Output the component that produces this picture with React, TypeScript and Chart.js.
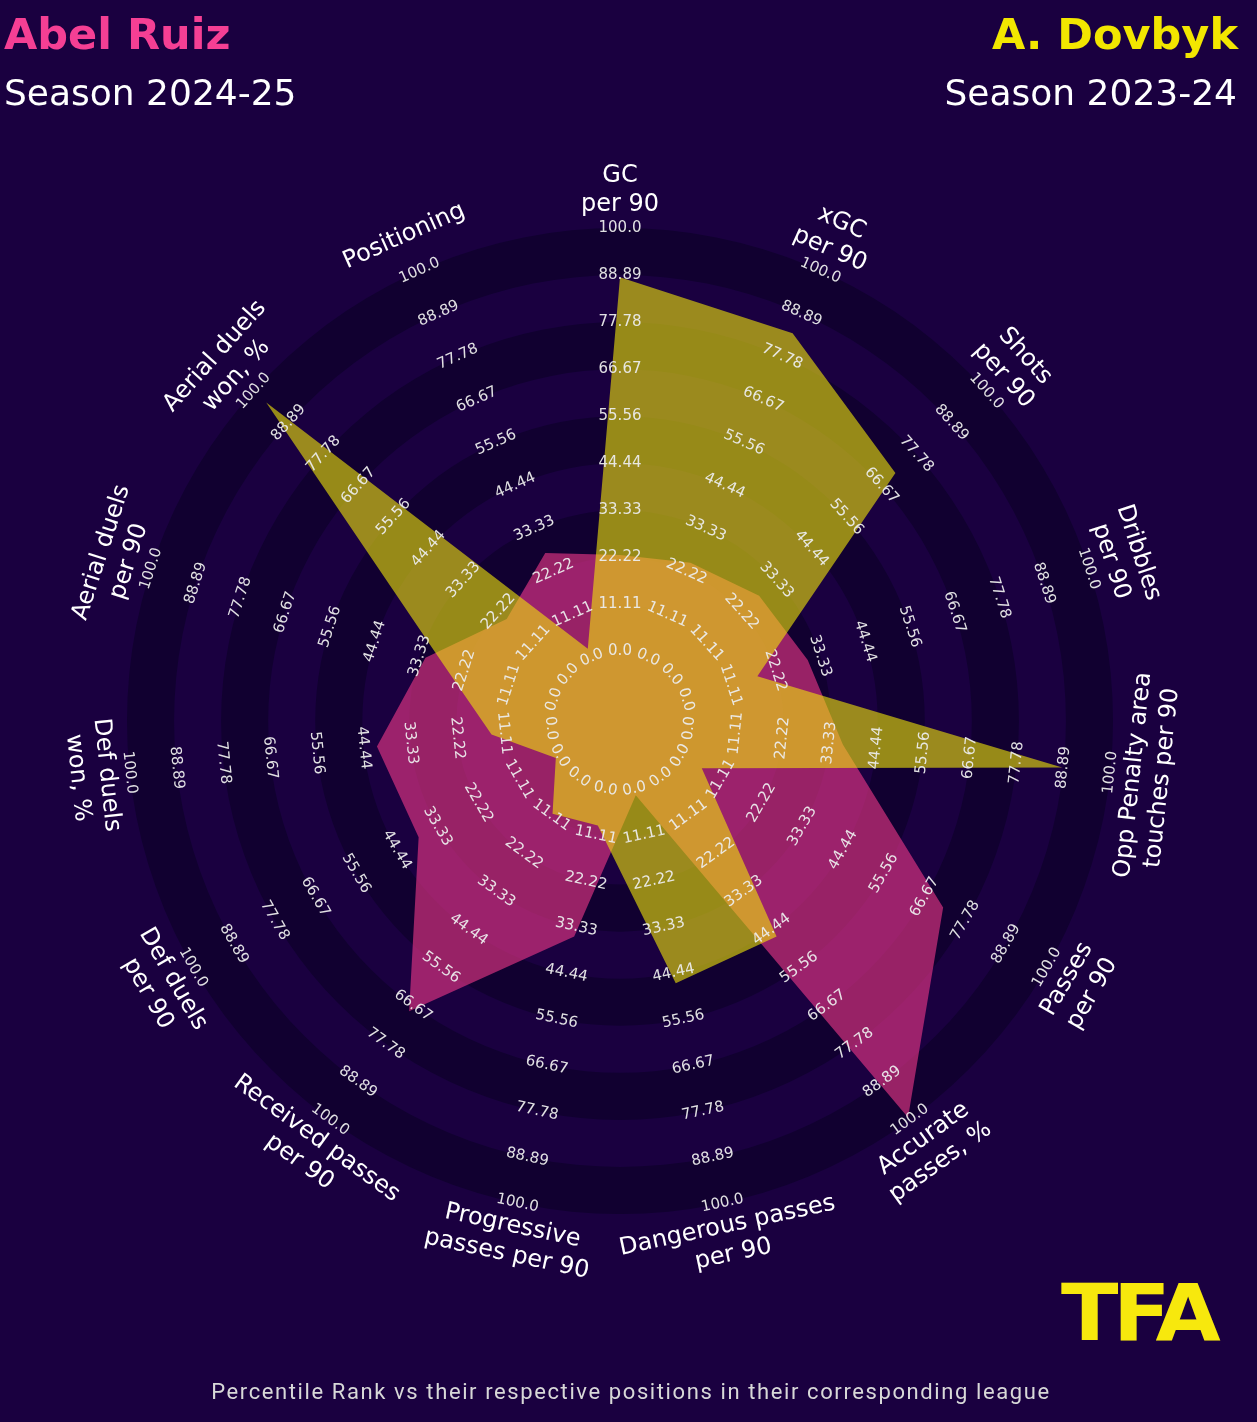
import React, { useEffect, useRef } from 'react';
import { Chart, registerables } from 'chart.js';

Chart.register(...registerables);

// ---------------- data ----------------
const PARAMS: string[] = [
  'GC per 90',
  'xGC per 90',
  'Shots per 90',
  'Dribbles per 90',
  'Opp Penalty area touches per 90',
  'Passes per 90',
  'Accurate passes, %',
  'Dangerous passes per 90',
  'Progressive passes per 90',
  'Received passes per 90',
  'Def duels per 90',
  'Def duels won, %',
  'Aerial duels per 90',
  'Aerial duels won, %',
  'Positioning',
];

const PARAM_LINES: string[][] = [
  ['GC', 'per 90'],
  ['xGC', 'per 90'],
  ['Shots', 'per 90'],
  ['Dribbles', 'per 90'],
  ['Opp Penalty area', 'touches per 90'],
  ['Passes', 'per 90'],
  ['Accurate', 'passes, %'],
  ['Dangerous passes', 'per 90'],
  ['Progressive', 'passes per 90'],
  ['Received passes', 'per 90'],
  ['Def duels', 'per 90'],
  ['Def duels', 'won, %'],
  ['Aerial duels', 'per 90'],
  ['Aerial duels', 'won, %'],
  ['Positioning'],
];

const ABEL_RUIZ: number[] = [22.8, 24.5, 27.8, 30.2, 36.5, 71.7, 99.3, 1.5, 35.6, 68.3, 38.5, 41.3, 31.9, 19.6, 27.0];
const DOVBYK: number[] = [88.4, 83.8, 71.1, 17.7, 88.6, 5.9, 46.5, 46.9, 8.8, 10.7, 1.1, 14.1, 27.6, 96.0, 2.3];

const TICK_VALUES: number[] = [0, 11.11, 22.22, 33.33, 44.44, 55.56, 66.67, 77.78, 88.89, 100];
const TICK_LABELS: string[] = ['0.0', '11.11', '22.22', '33.33', '44.44', '55.56', '66.67', '77.78', '88.89', '100.0'];

// ---------------- style ----------------
const BG = '#1a0040';
const RING_DARK = '#110030';
const PINK_FILL = 'rgba(244,56,138,0.6)';
const YELLOW_FILL = 'rgba(242,230,8,0.6)';
const PINK_TITLE = '#f53f94';
const YELLOW_TITLE = '#f2e600';
const SCALE_MIN = -16.4;
const SCALE_MAX = 100;
const LABEL_VALUE = 108.9;
const FONT = '"DejaVu Sans", "Noto Sans", sans-serif';

const W = 1257;
const H = 1422;

function textRotation(thetaDeg: number): number {
  return thetaDeg > 90 && thetaDeg < 270 ? thetaDeg - 180 : thetaDeg;
}

const ringsPlugin = {
  id: 'rings',
  beforeDatasetsDraw(chart: any) {
    const s = chart.scales.r;
    const ctx = chart.ctx;
    ctx.save();
    for (let k = 0; k < TICK_VALUES.length - 1; k += 2) {
      const r1 = s.getDistanceFromCenterForValue(TICK_VALUES[k]);
      const r2 = s.getDistanceFromCenterForValue(TICK_VALUES[k + 1]);
      ctx.beginPath();
      ctx.arc(s.xCenter, s.yCenter, r2, 0, Math.PI * 2, false);
      ctx.arc(s.xCenter, s.yCenter, r1, 0, Math.PI * 2, true);
      ctx.closePath();
      ctx.fillStyle = RING_DARK;
      ctx.fill();
    }
    ctx.restore();
  },
};

const labelsPlugin = {
  id: 'axisLabels',
  afterDatasetsDraw(chart: any) {
    const s = chart.scales.r;
    const ctx = chart.ctx;
    const n = PARAMS.length;
    ctx.save();
    ctx.textAlign = 'center';
    ctx.textBaseline = 'middle';
    for (let i = 0; i < n; i++) {
      const theta = (360 * i) / n;
      const rot = (textRotation(theta) * Math.PI) / 180;
      // range labels
      ctx.font = `15px ${FONT}`;
      ctx.fillStyle = 'rgba(236,236,236,0.95)';
      for (let j = 0; j < TICK_VALUES.length; j++) {
        const p = s.getPointPositionForValue(i, TICK_VALUES[j]);
        ctx.save();
        ctx.translate(p.x, p.y);
        ctx.rotate(rot);
        ctx.fillText(TICK_LABELS[j], 0, 0);
        ctx.restore();
      }
      // parameter labels
      const lines = PARAM_LINES[i];
      const lh = 29;
      const p = s.getPointPositionForValue(i, LABEL_VALUE);
      ctx.font = `24px ${FONT}`;
      ctx.fillStyle = '#ffffff';
      ctx.save();
      ctx.translate(p.x, p.y);
      ctx.rotate(rot);
      lines.forEach((ln, k) => {
        const off = (k - (lines.length - 1) / 2) * lh;
        ctx.fillText(ln, 0, off);
      });
      ctx.restore();
    }
    ctx.restore();
  },
};

function RadarChart() {
  const ref = useRef<HTMLCanvasElement | null>(null);
  useEffect(() => {
    if (!ref.current) return;
    const chart = new Chart(ref.current, {
      type: 'radar',
      data: {
        labels: PARAMS,
        datasets: [
          {
            label: 'A. Dovbyk',
            data: DOVBYK,
            backgroundColor: YELLOW_FILL,
            borderColor: 'transparent',
            borderWidth: 0,
            pointRadius: 0,
            pointHoverRadius: 0,
            fill: 'start',
            order: 1,
          },
          {
            label: 'Abel Ruiz',
            data: ABEL_RUIZ,
            backgroundColor: PINK_FILL,
            borderColor: 'transparent',
            borderWidth: 0,
            pointRadius: 0,
            pointHoverRadius: 0,
            fill: 'start',
            order: 2,
          },
        ],
      },
      options: {
        responsive: false,
        maintainAspectRatio: false,
        animation: false,
        layout: { padding: { left: 127, top: 228, right: 144, bottom: 208 } },
        plugins: {
          legend: { display: false },
          tooltip: { enabled: false },
        },
        elements: { line: { tension: 0 } },
        scales: {
          r: {
            min: SCALE_MIN,
            max: SCALE_MAX,
            beginAtZero: false,
            ticks: { display: false },
            grid: { display: false },
            angleLines: { display: false },
            pointLabels: { display: false },
          },
        },
      } as any,
      plugins: [ringsPlugin, labelsPlugin],
    });
    return () => chart.destroy();
  }, []);
  return <canvas ref={ref} width={W} height={H} style={{ position: 'absolute', left: 0, top: 0, width: W, height: H }} />;
}

export default function App() {
  useEffect(() => {
    document.body.style.margin = '0';
    document.body.style.background = BG;
  }, []);
  const base: React.CSSProperties = { position: 'absolute', whiteSpace: 'nowrap', fontFamily: FONT };
  return (
    <div style={{ position: 'absolute', left: 0, top: 0, width: W, height: H, background: BG, overflow: 'hidden' }}>
      <RadarChart />
      <div style={{ ...base, left: 4, top: 13, fontSize: 43, lineHeight: '43px', fontWeight: 'bold', color: PINK_TITLE }}>Abel Ruiz</div>
      <div style={{ ...base, left: 4, top: 75, fontSize: 36, lineHeight: '36px', color: '#ffffff' }}>Season 2024-25</div>
      <div style={{ ...base, right: 19, top: 13, fontSize: 43, lineHeight: '43px', fontWeight: 'bold', color: YELLOW_TITLE, textAlign: 'right' }}>A. Dovbyk</div>
      <div style={{ ...base, right: 20, top: 75, fontSize: 36, lineHeight: '36px', color: '#ffffff', textAlign: 'right' }}>Season 2023-24</div>
      <div style={{ ...base, left: 1061, top: 1274, fontSize: 78, lineHeight: '78px', fontWeight: 'bold', color: '#f7e80d', letterSpacing: '-5px', transform: 'scaleX(1.08)', transformOrigin: 'left center' }}>TFA</div>
      <div style={{ ...base, left: 0, width: W, top: 1381, fontSize: 22, lineHeight: '22px', color: '#d8d8d8', textAlign: 'center', fontFamily: 'Roboto, "Noto Sans", sans-serif', letterSpacing: '1.6px', paddingLeft: 5, boxSizing: 'border-box' }}>
        Percentile Rank vs their respective positions in their corresponding league
      </div>
    </div>
  );
}
